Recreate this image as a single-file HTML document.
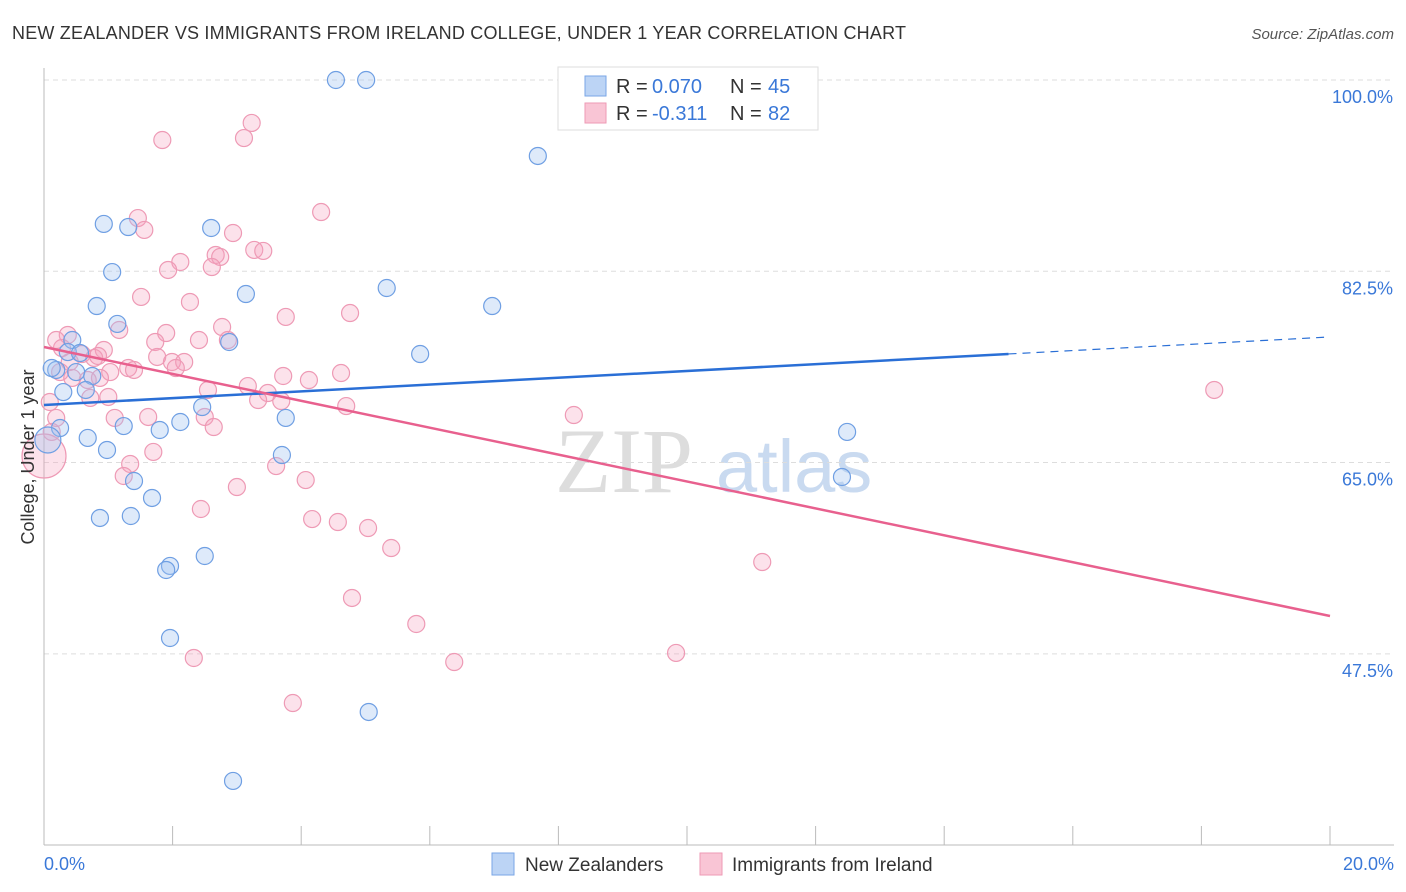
<!DOCTYPE html>
<html><head><meta charset="utf-8"><style>
body{margin:0;background:#fff;font-family:"Liberation Sans",sans-serif}
svg{display:block}
</style></head><body>
<svg id="chart" width="1406" height="892" viewBox="0 0 1406 892">
<text x="12" y="39" font-size="18" fill="#333" letter-spacing="0.2">NEW ZEALANDER VS IMMIGRANTS FROM IRELAND COLLEGE, UNDER 1 YEAR CORRELATION CHART</text>
<text x="1394" y="39" font-size="15" fill="#555" font-style="italic" text-anchor="end">Source: ZipAtlas.com</text>
<text x="555" y="492" font-size="92" fill="#ddd" font-family="Liberation Serif">ZIP</text>
<text x="716" y="492" font-size="74" fill="#c9daf0">atlas</text>
<g id="grid"></g><g id="axes"></g><g id="pts"></g><g id="trends"></g>
<text transform="translate(34,457) rotate(-90)" font-size="18" fill="#333" text-anchor="middle">College, Under 1 year</text>
<g>
<rect x="558" y="67" width="260" height="63" fill="#fff" stroke="#ddd"/>
<rect x="585" y="76" width="21" height="20" fill="#bcd4f5" stroke="#7aa6e6"/>
<text x="616" y="93" font-size="20" fill="#333">R =</text>
<text x="652" y="93" font-size="20" fill="#3a78d8">0.070</text>
<text x="730" y="93" font-size="20" fill="#333">N =</text>
<text x="768" y="93" font-size="20" fill="#3a78d8">45</text>
<rect x="585" y="103" width="21" height="20" fill="#f9c5d5" stroke="#ee9ab5"/>
<text x="616" y="120" font-size="20" fill="#333">R =</text>
<text x="652" y="120" font-size="20" fill="#3a78d8">-0.311</text>
<text x="730" y="120" font-size="20" fill="#333">N =</text>
<text x="768" y="120" font-size="20" fill="#3a78d8">82</text>
</g>
<g>
<rect x="492" y="853" width="22" height="22" fill="#bcd4f5" stroke="#7aa6e6"/>
<text x="525" y="871" font-size="19" fill="#333">New Zealanders</text>
<rect x="700" y="853" width="22" height="22" fill="#f9c5d5" stroke="#ee9ab5"/>
<text x="732" y="871" font-size="19" fill="#333">Immigrants from Ireland</text>
</g>
</svg>
<script>
const yTicks=[100,82.5,65,47.5];
const yTickLabels=["100.0%","82.5%","65.0%","47.5%"];
const xTickLabels=["0.0%","20.0%"];
const blueX=[4.54,5.01,7.68,.93,1.31,2.60,1.06,3.14,5.33,.82,6.97,1.14,2.88,.44,.37,.56,5.85,.19,.50,.75,.30,.65,2.46,3.76,1.24,1.80,2.12,.25,.68,.06,.98,3.70,12.49,12.41,1.40,1.68,.87,1.35,2.50,1.96,1.90,1.96,5.05,2.94,.12];
const blueY=[100,100,93.05,86.83,86.55,86.46,82.43,80.42,80.97,79.32,79.32,77.68,76.03,76.21,75.11,75.02,74.93,73.47,73.28,72.92,71.45,71.64,70.08,69.08,68.34,67.98,68.71,68.16,67.25,67.06,66.15,65.69,67.80,63.68,63.31,61.76,59.93,60.11,56.45,55.54,55.17,48.95,42.18,35.87,73.65];
const pinkX=[1.84,3.11,3.23,4.31,1.46,1.56,2.94,3.27,3.41,2.67,2.74,2.12,1.93,2.61,1.51,2.27,4.76,3.76,2.77,1.17,1.90,.37,2.86,2.41,1.73,.28,.93,.59,.78,1.76,1.99,2.18,.84,.40,1.31,1.40,1.03,2.05,4.62,3.72,4.12,.87,.25,.72,1.00,3.17,3.48,2.55,3.69,3.33,4.70,8.24,.09,.19,1.10,1.62,2.50,2.64,.12,0,1.70,1.34,1.24,3.61,4.07,3.00,2.44,4.17,4.57,5.04,5.40,11.17,4.79,5.79,2.33,6.38,9.83,3.87,18.20,.68,.19,.44];
const pinkY=[94.51,94.69,96.07,87.92,87.37,86.28,86.00,84.45,84.36,83.99,83.81,83.35,82.62,82.89,80.15,79.69,78.68,78.32,77.40,77.13,76.85,76.67,76.21,76.21,76.03,75.48,75.30,74.93,74.57,74.66,74.20,74.20,74.75,74.20,73.65,73.47,73.28,73.65,73.19,72.92,72.55,72.74,73.28,70.91,71.00,72.00,71.36,71.64,70.63,70.72,70.17,69.35,70.54,69.08,69.08,69.17,69.17,68.25,67.80,65.60,65.97,64.87,63.77,64.68,63.40,62.76,60.75,59.83,59.56,59.01,57.18,55.90,52.61,50.23,47.12,46.75,47.58,43.00,71.64,72.55,76.21,72.74];
const blueTrend=[70.27,76.49], pinkTrend=[75.57,50.96];
const NS="http://www.w3.org/2000/svg";
const xs=v=>44+v*64.3, ys=v=>80+(100-v)*10.93;
function mk(p,t,a){const e=document.createElementNS(NS,t);for(const k in a)e.setAttribute(k,a[k]);document.getElementById(p).appendChild(e);return e;}
yTicks.forEach((t,i)=>{
 const g=mk('grid','line',{x1:44,x2:1394,y1:ys(t),y2:ys(t),stroke:'#ddd','stroke-dasharray':'5,4'});
 
 
 const l=mk('grid','text',{x:1393,y:ys(t)+23,'font-size':18,fill:'#3a78d8','text-anchor':'end'});
 l.textContent=yTickLabels[i];
 
 
});
const ax=mk('axes','line',{x1:44,x2:44,y1:68,y2:845,stroke:'#bbb'});


const bx=mk('axes','line',{x1:44,x2:1394,y1:845,y2:845,stroke:'#bbb'});


for(let i=0;i<=10;i++){const tk=mk('axes','line',{x1:xs(i*2),x2:xs(i*2),y1:826,y2:845,stroke:'#bbb'});
 
 }
[[0,'start',44],[20,'end',1394]].forEach((d,i)=>{const t=mk('axes','text',{x:d[2],y:870,'font-size':18,fill:'#3a78d8','text-anchor':d[1]});t.textContent=xTickLabels[i];
 
 });
pinkX.forEach((x,i)=>{const c=mk('pts','circle',{cx:xs(x),cy:ys(pinkY[i]),r:x<0.05?22:8.5,fill:'rgba(244,160,188,0.3)',stroke:'#ee9ab5','stroke-width':1.2});
 
 });
blueX.forEach((x,i)=>{const c=mk('pts','circle',{cx:xs(x),cy:ys(blueY[i]),r:x<0.1?13:8.5,fill:'rgba(160,196,240,0.35)',stroke:'#6f9fe3','stroke-width':1.2});
 
 });
const bAt=v=>blueTrend[0]+(blueTrend[1]-blueTrend[0])*v/20;
const t1=mk('trends','line',{x1:xs(0),y1:ys(bAt(0)),x2:xs(15),y2:ys(bAt(15)),stroke:'#2a6fd6','stroke-width':2.5});


const t2=mk('trends','line',{x1:xs(15),y1:ys(bAt(15)),x2:xs(20),y2:ys(bAt(20)),stroke:'#2a6fd6','stroke-width':1.2,'stroke-dasharray':'8,6'});


const t3=mk('trends','line',{x1:xs(0),y1:ys(pinkTrend[0]),x2:xs(20),y2:ys(pinkTrend[1]),stroke:'#e8608e','stroke-width':2.5});


</script>
</body></html>
